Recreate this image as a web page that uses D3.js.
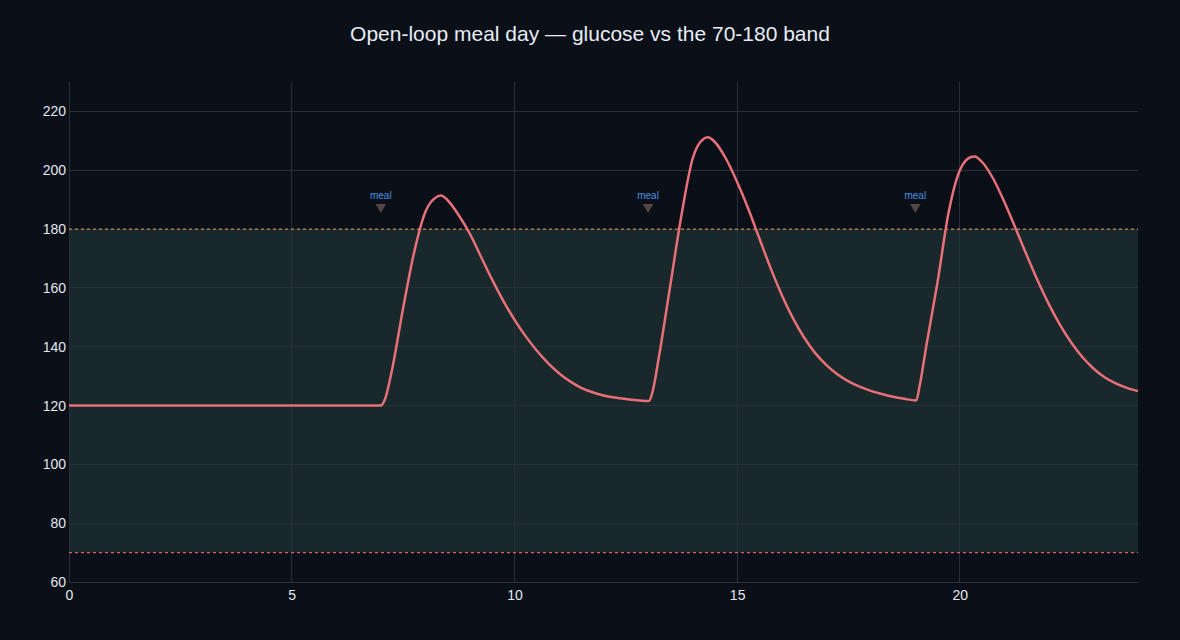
<!DOCTYPE html>
<html>
<head>
<meta charset="utf-8">
<script src="https://cdn.jsdelivr.net/npm/d3@7"></script>
<style>
  html, body { margin: 0; padding: 0; background: #0b0f17; }
  svg { display: block; font-family: "Liberation Sans", Arial, sans-serif; }
</style>
</head>
<body>
<div id="chart"></div>
<script>
// glucose trace, hours since midnight -> mg/dL
var hours = [0, 1, 2, 3, 4, 5, 6, 7, 7.1, 7.25, 7.5, 7.75, 8, 8.25, 8.35, 8.5, 8.75, 9, 9.25, 9.5, 9.75,
    10, 10.25, 10.5, 10.75, 11, 11.25, 11.5, 11.75, 12, 12.25, 12.5, 12.75, 13.02,
    13.1, 13.25, 13.5, 13.75, 14, 14.25, 14.34, 14.5, 14.75, 15, 15.25, 15.5, 15.75, 16, 16.25, 16.5, 16.75,
    17, 17.25, 17.5, 17.75, 18, 18.25, 18.5, 18.75, 19.02,
    19.1, 19.25, 19.5, 19.75, 20, 20.25, 20.33, 20.5, 20.75, 21, 21.25, 21.5, 21.75, 22, 22.25, 22.5, 22.75,
    23, 23.25, 23.5, 23.75, 24];
var glucose = [120, 120, 120, 120, 120, 120, 120, 120, 122.4, 132, 153, 172.2, 185.8, 190.9, 191.4, 189.8, 184.7, 178.4, 170.6, 162.8, 155.6,
    149.2, 143.6, 138.7, 134.5, 131.0, 128.2, 126.0, 124.5, 123.4, 122.7, 122.2, 121.8, 121.5,
    124.6, 137.1, 160.9, 184.7, 203.9, 210.7, 211.2, 209.6, 203.9, 196, 186.9, 176.8, 166.8, 157.7, 149.8, 143.2, 137.9,
    133.8, 130.6, 128.2, 126.4, 125.0, 123.9, 123.0, 122.3, 121.7,
    126.9, 140.5, 162, 185.8, 200, 204.5, 204.7, 202.8, 197.1, 189.2, 180.3, 171.2, 162.4, 154.4, 147.4, 141.4, 136.5,
    132.6, 129.6, 127.5, 126.0, 124.9];

var mealTimes = [7, 13, 19];
var mealLabel = 'meal';
var mealMarkerLevel = 187.5;

var bandLow = 70;
var bandHigh = 180;

var xTicks = [0, 5, 10, 15, 20];
var yTicks = [60, 80, 100, 120, 140, 160, 180, 200, 220];

var chartTitle = 'Open-loop meal day \u2014 glucose vs the 70-180 band';

var width = 1180, height = 640;
var margin = {top: 82, right: 42, bottom: 58, left: 69};

var svg = d3.select('#chart').append('svg')
    .attr('width', width)
    .attr('height', height);

svg.append('rect')
    .attr('width', width).attr('height', height)
    .attr('fill', '#0b0f17');

var x = d3.scaleLinear().domain([0, 24]).range([margin.left, width - margin.right]);
var y = d3.scaleLinear().domain([60, 230]).range([height - margin.bottom, margin.top]);

// target band
svg.append('rect')
    .attr('x', x(0))
    .attr('y', y(bandHigh))
    .attr('width', x(24) - x(0))
    .attr('height', y(bandLow) - y(bandHigh))
    .attr('fill', '#19282a');

// grid
var grid = svg.append('g').attr('class', 'grid');
grid.selectAll('line.gx')
    .data(xTicks)
    .join('line')
    .attr('class', 'gx')
    .attr('x1', function(d) { return x(d); })
    .attr('x2', function(d) { return x(d); })
    .attr('y1', y.range()[1])
    .attr('y2', y.range()[0])
    .attr('stroke', '#283039')
    .attr('stroke-width', 1)
    .attr('shape-rendering', 'crispEdges');
grid.selectAll('line.gy')
    .data(yTicks)
    .join('line')
    .attr('class', 'gy')
    .attr('x1', x.range()[0])
    .attr('x2', x.range()[1])
    .attr('y1', function(d) { return y(d); })
    .attr('y2', function(d) { return y(d); })
    .attr('stroke', '#283039')
    .attr('stroke-width', 1)
    .attr('shape-rendering', 'crispEdges');

// band edges
svg.append('line')
    .attr('x1', x(0)).attr('x2', x(24))
    .attr('y1', y(bandHigh)).attr('y2', y(bandHigh))
    .attr('stroke', '#c98a45')
    .attr('stroke-width', 1.2)
    .attr('stroke-dasharray', '3,3');
svg.append('line')
    .attr('x1', x(0)).attr('x2', x(24))
    .attr('y1', y(bandLow)).attr('y2', y(bandLow))
    .attr('stroke', '#e0606a')
    .attr('stroke-width', 1.2)
    .attr('stroke-dasharray', '3,3');

// axes
var xAxis = svg.append('g')
    .attr('transform', 'translate(0,' + (height - margin.bottom) + ')')
    .call(d3.axisBottom(x).tickValues(xTicks).tickSize(0).tickPadding(8));
var yAxis = svg.append('g')
    .attr('transform', 'translate(' + margin.left + ',0)')
    .call(d3.axisLeft(y).tickValues(yTicks).tickSize(0).tickPadding(3));
[xAxis, yAxis].forEach(function(a) {
    a.select('.domain').remove();
    a.selectAll('text')
        .attr('fill', '#e2e8f0')
        .attr('font-size', '14px')
        .attr('font-family', '"Liberation Sans", Arial, sans-serif');
});

// glucose line
var line = d3.line()
    .x(function(d, i) { return x(hours[i]); })
    .y(function(d) { return y(d); })
    .curve(d3.curveMonotoneX);

svg.append('path')
    .datum(glucose)
    .attr('d', line)
    .attr('fill', 'none')
    .attr('stroke', '#e8707a')
    .attr('stroke-width', 2.5)
    .attr('stroke-linejoin', 'round');

// meal markers
var meals = svg.append('g').selectAll('g')
    .data(mealTimes)
    .join('g')
    .attr('transform', function(d) { return 'translate(' + x(d) + ',' + y(mealMarkerLevel) + ')'; });
meals.append('path')
    .attr('d', d3.symbol().type(d3.symbolTriangle).size(48))
    .attr('transform', 'rotate(180)')
    .attr('fill', '#5a4a4e')
    .attr('opacity', 0.9);
meals.append('text')
    .text(mealLabel)
    .attr('y', -8)
    .attr('text-anchor', 'middle')
    .attr('font-size', '10px')
    .attr('fill', '#4a90e2');

// title
svg.append('text')
    .attr('x', width / 2)
    .attr('y', 41)
    .attr('text-anchor', 'middle')
    .attr('font-size', '21px')
    .attr('fill', '#e6edf5')
    .text(chartTitle);
</script>
</body>
</html>
